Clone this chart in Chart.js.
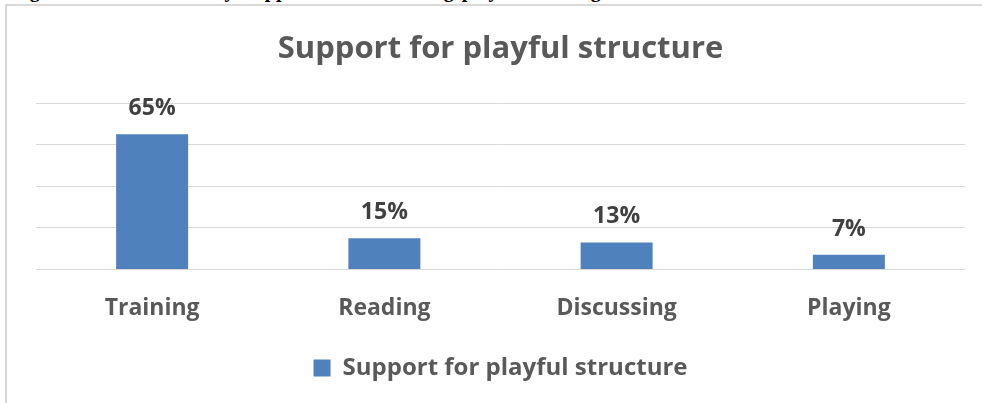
<!DOCTYPE html>
<html>
<head>
<meta charset="utf-8">
<script src="https://cdn.jsdelivr.net/npm/chart.js@4.4.1/dist/chart.umd.min.js"></script>
<style>
  html, body { margin: 0; padding: 0; background: #ffffff; overflow: hidden; }
  #wrap { position: relative; width: 982px; height: 403px; overflow: hidden; }
  #caption { position: absolute; left: 12px; top: -20px; font: bold 20px "Liberation Serif", "Times New Roman", serif; line-height: 20px; white-space: nowrap; color: #000; word-spacing: 3px; }
  #frame { position: absolute; left: 5px; top: 4px; width: 990px; height: 410px; border-left: 2px solid #d9d9d9; border-top: 2px solid #d9d9d9; box-sizing: border-box; }
  #c { position: absolute; left: 0; top: 0; }
</style>
</head>
<body>
<div id="wrap">
  <div id="caption">Figure 5: Distribution by Support for Structuring playful learning</div>
  <div id="frame"></div>
  <canvas id="c" width="982" height="403"></canvas>
</div>
<script>
const chartTitle = "Support for playful structure";
const seriesName = "Support for playful structure";
const categories = ["Training", "Reading", "Discussing", "Playing"];
const values = [65, 15, 13, 7];
const valueLabels = ["65%", "15%", "13%", "7%"];
const yTicks = [0, 20, 40, 60, 80];

const FONT = "'Open Sans', 'Noto Sans', sans-serif";

const barLabels = {
  id: 'barLabels',
  afterDatasetsDraw(chart) {
    const ctx = chart.ctx;
    const meta = chart.getDatasetMeta(0);
    ctx.save();
    ctx.font = "bold 23px " + FONT;
    ctx.fillStyle = "#404040";
    ctx.textAlign = "center";
    ctx.textBaseline = "alphabetic";
    meta.data.forEach((bar, i) => {
      ctx.fillText(valueLabels[i], bar.x, bar.y - 19);
    });
    ctx.restore();
  }
};

new Chart(document.getElementById('c'), {
  type: 'bar',
  data: {
    labels: categories,
    datasets: [{
      label: seriesName,
      data: values,
      backgroundColor: '#4F81BD',
      borderWidth: 0,
      barPercentage: 1.0,
      categoryPercentage: 0.31
    }]
  },
  options: {
    responsive: false,
    animation: false,
    devicePixelRatio: 1,
    layout: { padding: { top: 0, left: 36, right: 17, bottom: 13 } },
    plugins: {
      title: {
        display: true,
        text: chartTitle,
        color: '#595959',
        font: { family: FONT, size: 31, weight: 'bold' },
        padding: { top: 31, bottom: 35 }
      },
      legend: {
        display: true,
        position: 'bottom',
        labels: {
          color: '#595959',
          font: { family: FONT, size: 24, weight: 'bold' },
          boxWidth: 17,
          boxHeight: 17,
          padding: 9
        }
      },
      tooltip: { enabled: false }
    },
    scales: {
      x: {
        grid: { display: false, drawTicks: false },
        border: { display: false },
        ticks: {
          color: '#595959',
          font: { family: FONT, size: 23, weight: 'bold' },
          padding: 25
        }
      },
      y: {
        min: 0,
        max: 80,
        afterBuildTicks(scale) { scale.ticks = yTicks.map(v => ({ value: v })); },
        grid: { color: '#d9d9d9', lineWidth: 1, drawTicks: false },
        border: { display: false },
        ticks: { display: false }
      }
    }
  },
  plugins: [barLabels]
});
</script>
</body>
</html>
